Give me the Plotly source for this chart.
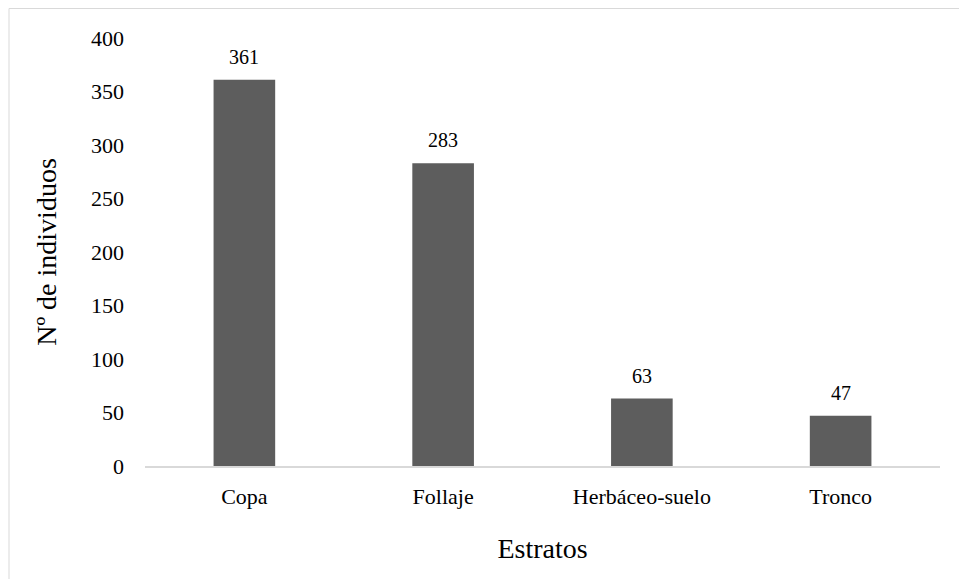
import plotly.graph_objects as go

categories = ["Copa", "Follaje", "Herbáceo-suelo", "Tronco"]
values = [361, 283, 63, 47]
y_ticks = [0, 50, 100, 150, 200, 250, 300, 350, 400]

FONT = "Liberation Serif"
fig = go.Figure()
fig.add_trace(go.Bar(
    x=categories, y=values,
    marker=dict(color="#5d5d5d", line=dict(width=0)),
    width=0.31,
))
for c, v in zip(categories, values):
    fig.add_annotation(x=c, y=v, text=str(v), showarrow=False,
                       yanchor="bottom", yshift=10,
                       font=dict(family=FONT, size=20, color="#000"))

fig.update_layout(
    width=959, height=579,
    margin=dict(l=145, r=19, t=38, b=113),
    paper_bgcolor="white", plot_bgcolor="white",
    font=dict(family=FONT, color="#000"),
    showlegend=False,
    bargap=0.69,
)
fig.update_yaxes(
    range=[0, 400], tickvals=y_ticks, showgrid=False, zeroline=False,
    showline=False, ticks="", tickfont=dict(size=22, family=FONT),
    ticklabelstandoff=20,
    title=dict(text="Nº de individuos", font=dict(size=28, family=FONT), standoff=26),
)
fig.update_xaxes(
    showline=True, linecolor="#d9d9d9", linewidth=2, ticks="",
    tickfont=dict(size=22, family=FONT), ticklabelstandoff=10,
    title=dict(text="Estratos", font=dict(size=28, family=FONT), standoff=30),
)
fig.add_shape(type="rect", xref="paper", yref="paper",
              x0=(9 - 145) / 795, x1=1.1, y0=-0.4, y1=(466 - 8.5) / 428,
              line=dict(color="#d9d9d9", width=1), fillcolor="rgba(0,0,0,0)", layer="below")

fig.write_html("out.html")
